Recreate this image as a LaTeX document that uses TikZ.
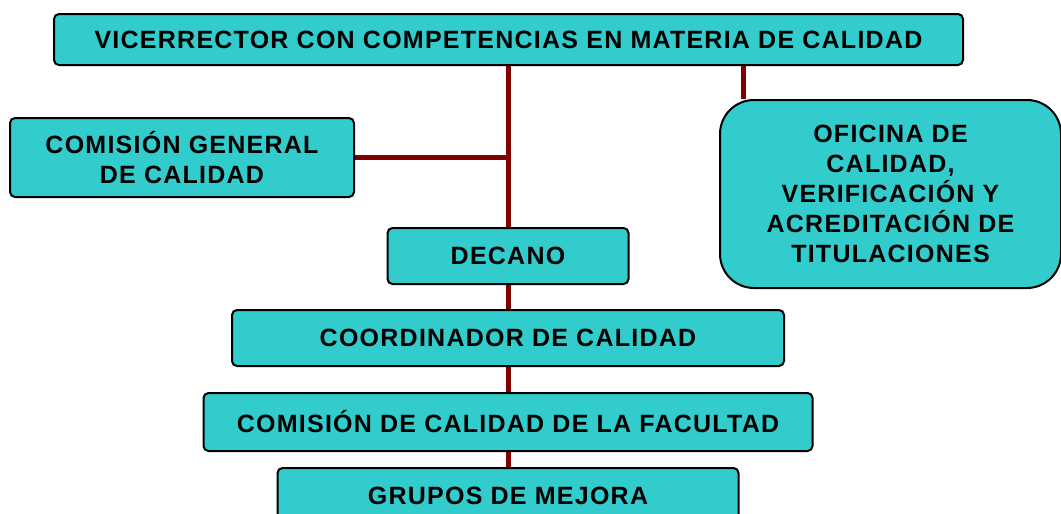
\documentclass[tikz,border=0pt]{standalone}
\usepackage{fontspec}
\setmainfont[LetterSpace=5]{Liberation Sans}
\usetikzlibrary{backgrounds}
\definecolor{cajaturq}{HTML}{33CCCC}
\definecolor{lineagranate}{HTML}{800000}
\tikzset{
	caja/.style={draw=black, line width=1pt, fill=cajaturq, rounded corners=2.5pt,
		inner sep=0pt, align=center, font=\fontsize{12.5}{15}\selectfont\bfseries},
	enlace/.style={draw=lineagranate, line width=2.5pt}
}
\begin{document}
\begin{tikzpicture}[x=0.5pt, y=-0.5pt]
		\useasboundingbox (0,0) rectangle (1061,514);
		\clip (0,0) rectangle (1061,514);
		\node[caja, minimum width=454.5pt, minimum height=25.5pt] (vice) at (508.5,39.5)
			{VICERRECTOR CON COMPETENCIAS EN MATERIA DE CALIDAD};
		\node[caja, minimum width=172pt, minimum height=39.5pt] (cgen) at (182,157.5)
			{COMISIÓN GENERAL\\DE CALIDAD};
		\node[caja, rounded corners=17pt, minimum width=170.5pt, minimum height=94pt] (ofi) at (890.5,194)
			{OFICINA DE\\CALIDAD,\\VERIFICACIÓN Y\\ACREDITACIÓN DE\\TITULACIONES};
		\node[caja, minimum width=120.5pt, minimum height=28pt] (decano) at (508,256) {DECANO};
		\node[caja, minimum width=276pt, minimum height=28pt] (coord) at (508,338)
			{COORDINADOR DE CALIDAD};
		\node[caja, minimum width=304.5pt, minimum height=29pt] (cfac) at (508,422)
			{COMISIÓN DE CALIDAD DE LA FACULTAD};
		\node[caja, minimum width=230.5pt, minimum height=28pt] (grupos) at (508,496)
			{GRUPOS DE MEJORA};
		\coordinate (ofitop) at ([xshift=12pt]ofi.north west);
		\begin{scope}[on background layer]
			\draw[enlace] (decano.north) -- (decano.north |- vice.south);
			\draw[enlace] (cgen.east) -- (cgen.east -| decano.north);
			\draw[enlace] (ofitop) -- (ofitop |- vice.south);
			\draw[enlace] (decano.south) -- (coord.north);
			\draw[enlace] (coord.south) -- (cfac.north);
			\draw[enlace] (cfac.south) -- (grupos.north);
		\end{scope}
\end{tikzpicture}
\end{document}
